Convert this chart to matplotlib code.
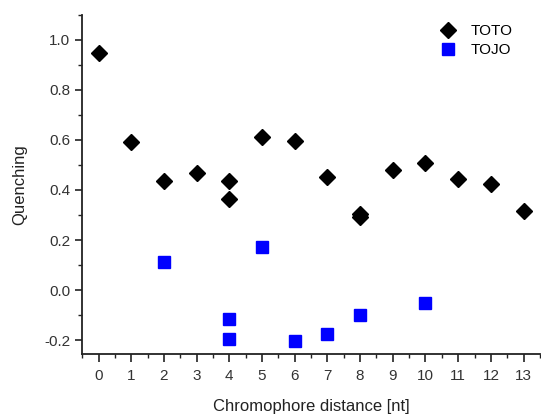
import matplotlib.pyplot as plt
from matplotlib.ticker import MultipleLocator

plt.rcParams['font.family'] = ['Liberation Sans', 'DejaVu Sans']

# TOTO (black diamonds)
toto_x = [0, 1, 2, 3, 4, 4, 5, 6, 7, 8, 8, 9, 10, 11, 12, 13]
toto_y = [0.947, 0.593, 0.437, 0.467, 0.437, 0.365, 0.612, 0.595, 0.450, 0.302, 0.290,
          0.478, 0.507, 0.442, 0.422, 0.316]

# TOJO (blue squares)
tojo_x = [2, 4, 4, 5, 6, 7, 8, 10]
tojo_y = [0.111, -0.116, -0.194, 0.171, -0.202, -0.176, -0.100, -0.050]

fig = plt.figure(figsize=(5.41, 4.16), dpi=100)
ax = fig.add_axes([0.152, 0.149, 0.846, 0.815])

ax.plot(toto_x, toto_y, 'D', color='black', markersize=8.5, linestyle='none', label='TOTO')
ax.plot(tojo_x, tojo_y, 's', color='#0000ff', markersize=8.3, linestyle='none', label='TOJO')

ax.set_xlim(-0.5, 13.5)
ax.set_ylim(-0.256, 1.1)
ax.xaxis.set_major_locator(MultipleLocator(1))
ax.xaxis.set_minor_locator(MultipleLocator(0.5))
ax.yaxis.set_major_locator(MultipleLocator(0.2))
ax.yaxis.set_minor_locator(MultipleLocator(0.1))
ax.yaxis.set_major_formatter(lambda v, p: f'{v:.1f}')

for s in ['top', 'right']:
    ax.spines[s].set_visible(False)
for s in ['left', 'bottom']:
    ax.spines[s].set_linewidth(1.3)
    ax.spines[s].set_color('#222222')
ax.tick_params(which='major', direction='out', length=5, width=1.2, labelsize=11,
               colors='#222222', labelcolor='#333333')
ax.tick_params(axis='x', which='major', length=6, pad=5)
ax.tick_params(which='minor', direction='out', length=3, width=1.0, colors='#222222')

ax.set_xlabel('Chromophore distance [nt]', fontsize=12, labelpad=11.5, color='#222222')
ax.set_ylabel('Quenching', fontsize=12, labelpad=12, color='#222222')

ax.legend(loc='upper right', frameon=False, fontsize=11, handletextpad=0.8,
          borderaxespad=0.2, labelspacing=0.35, handlelength=1.4,
          bbox_to_anchor=(0.96, 1.0))

plt.savefig('out.png', dpi=100)
